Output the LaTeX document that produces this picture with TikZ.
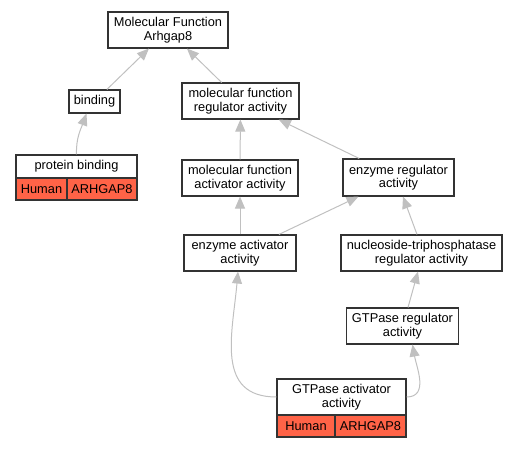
\documentclass[tikz,border=0pt]{standalone}
\usepackage{fontspec}
\setmainfont{Liberation Sans}
\usetikzlibrary{arrows.meta}
\definecolor{hitred}{HTML}{FF6347}
\definecolor{edgegray}{HTML}{C0C0C0}

\begin{document}
\begin{tikzpicture}[x=1pt,y=1pt,
  term/.style={draw=black!80,line width=1.1pt,fill=white,align=center,inner sep=0pt,
    font=\fontsize{12.8}{13.5}\selectfont},
  hit/.style={term,fill=hitred},
  isa/.style={draw=edgegray,line width=1pt,-{Triangle[length=12pt,width=10pt]}}]
\useasboundingbox (0,0) rectangle (517,448);
% Terms
\node[term,minimum width=120pt,minimum height=36pt] (mf) at (168,418) {Molecular Function\\Arhgap8};
\node[term,minimum width=51pt,minimum height=23pt] (bind) at (94.5,346.5) {binding};
\node[term,minimum width=117pt,minimum height=36pt] (mfreg) at (240.5,347) {molecular function\\regulator activity};
\node[term,minimum width=121pt,minimum height=23pt] (pb) at (76.5,281.5) {protein binding};
\node[hit,minimum width=51pt,minimum height=22pt] (pbh) at (41.5,259) {Human};
\node[hit,minimum width=70pt,minimum height=22pt] (pbg) at (102,259) {ARHGAP8};
\node[term,minimum width=116pt,minimum height=36pt] (mfact) at (240,270) {molecular function\\activator activity};
\node[term,minimum width=111pt,minimum height=37pt] (enzreg) at (398.5,270.5) {enzyme regulator\\activity};
\node[term,minimum width=112pt,minimum height=36pt] (enzact) at (240,195) {enzyme activator\\activity};
\node[term,minimum width=161pt,minimum height=36pt] (ntpreg) at (421.5,195) {nucleoside-triphosphatase\\regulator activity};
\node[term,minimum width=112pt,minimum height=36pt] (gtpreg) at (402.5,122) {GTPase regulator\\activity};
\node[term,minimum width=129pt,minimum height=36pt] (gtpact) at (341.5,51) {GTPase activator\\activity};
\node[hit,minimum width=58pt,minimum height=22pt] (gtph) at (306,22) {Human};
\node[hit,minimum width=71pt,minimum height=22pt] (gtpg) at (370.5,22) {ARHGAP8};
% Is-a links
\draw[isa] (bind) -- (mf);
\draw[isa] (mfreg) -- (mf);
\draw[isa] (pb.north) to[out=92,in=-110] ([xshift=-8pt]bind.south);
\draw[isa] (mfact) -- (mfreg);
\draw[isa] (enzreg) -- (mfreg);
\draw[isa] (enzact) -- (mfact);
\draw[isa] (enzact) -- (enzreg);
\draw[isa] ([xshift=-4.5pt]ntpreg.north) -- ([xshift=4.5pt]enzreg.south);
\draw[isa] ([xshift=5.5pt]gtpreg.north) -- ([xshift=-3.5pt]ntpreg.south);
\draw[isa] (gtpact.west) to[out=180,in=-95,looseness=1.2] ([xshift=-2pt]enzact.south);
\draw[isa] (gtpact.east) to[out=0,in=-80,looseness=1.1] ([xshift=10pt]gtpreg.south);
\end{tikzpicture}
\end{document}
